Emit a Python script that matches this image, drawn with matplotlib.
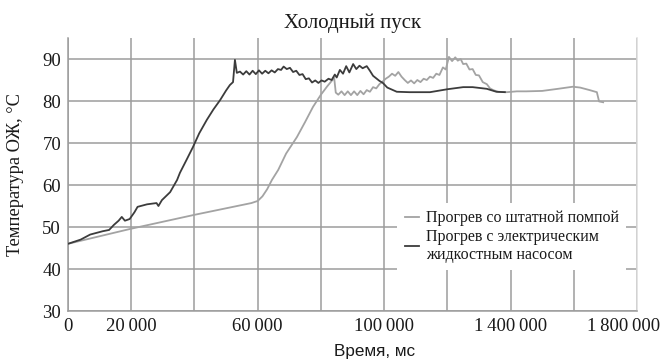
import matplotlib
matplotlib.use("Agg")
import matplotlib.pyplot as plt
from matplotlib.transforms import ScaledTranslation

# Coolant temperature during a cold start, time in ms
time_std = [0, 20000, 40000, 58000, 60000, 61500, 63000, 64500, 66500, 69000,
            72400, 75000, 77500, 80000, 82000, 84200, 84700, 85500, 86500, 87500,
            88500, 89500, 90500, 91500, 92500, 93500, 94500, 95500, 96500, 97500,
            98500, 99500, 100500, 101500, 102500, 103500, 104500, 105500, 106500, 107500,
            108500, 109500, 110500, 111500, 112500, 113500, 114500, 115500, 116500, 117500,
            118600, 119500, 120500, 121500, 122500, 123300, 124200, 125000, 126000, 127000,
            128000, 129000, 130000, 131200, 132500, 133500, 134500, 136000, 138800, 142000,
            145000, 150000, 155000, 159700, 162000, 165000, 167300, 168000, 169300]
temp_std = [46.0, 49.6, 52.9, 55.7, 56.2, 57.3, 59.0, 61.2, 63.6, 67.5,
            71.4, 75.0, 78.6, 81.5, 83.5, 85.5, 82.0, 81.5, 82.3, 81.4,
            82.3, 81.4, 82.3, 81.4, 82.4, 81.6, 82.6, 82.2, 83.3, 83.0,
            84.0, 84.6, 85.3, 85.8, 86.5, 86.0, 86.9, 85.8, 85.0, 84.3,
            84.9, 84.2, 85.0, 84.5, 85.3, 85.0, 85.8, 85.5, 86.5, 86.2,
            88.0, 87.5, 90.5, 89.5, 90.4, 89.6, 90.0, 88.8, 88.9, 87.5,
            87.6, 86.2, 86.1, 84.5, 84.0, 83.0, 82.6, 82.2, 82.1, 82.3,
            82.3, 82.4, 82.9, 83.4, 83.2, 82.6, 82.1, 79.9, 79.7]

time_el = [0, 2000, 4000, 5500, 7000, 9000, 11000, 13000, 14500, 16000,
           17000, 18000, 19500, 21000, 22000, 25000, 28000, 28600, 29700, 32300,
           34500, 35400, 37500, 39500, 41500, 43900, 46000, 48100, 50000, 51200,
           52200, 52800, 53400, 54400, 55400, 56400, 57400, 58400, 59400, 60400,
           61400, 62400, 63400, 64400, 65400, 66400, 67400, 68200, 69200, 70200,
           71200, 72200, 73200, 74200, 75200, 76200, 77200, 78200, 79200, 80200,
           81200, 82400, 83400, 84400, 85000, 86000, 87000, 88000, 89000, 90200,
           91200, 92200, 93200, 94500, 95500, 96500, 97500, 98500, 99600, 101000,
           102800, 104000, 108000, 114500, 120000, 125000, 128000, 132500, 135500, 138200]
temp_el = [46.0, 46.5, 47.0, 47.6, 48.2, 48.6, 49.0, 49.3, 50.5, 51.5,
           52.4, 51.5, 51.9, 53.5, 54.8, 55.4, 55.7, 55.0, 56.4, 58.3,
           61.2, 62.9, 66.0, 69.0, 72.3, 75.5, 78.0, 80.2, 82.5, 83.8,
           84.5, 89.8, 86.7, 87.0, 86.3, 87.1, 86.3, 87.2, 86.4, 87.3,
           86.5, 87.2, 86.6, 87.3, 86.8, 87.6, 87.4, 88.2, 87.6, 87.9,
           86.9, 87.2, 86.2, 86.4, 85.2, 85.4, 84.4, 84.9, 84.3, 84.9,
           84.6, 85.3, 85.0, 86.3, 85.6, 87.4, 86.5, 88.3, 86.8, 88.8,
           87.6, 88.4, 87.8, 88.3, 87.2, 86.0, 85.4, 84.8, 84.3, 83.2,
           82.6, 82.2, 82.1, 82.1, 82.8, 83.3, 83.3, 82.9, 82.2, 82.1]

x_ticks = [0, 20000, 40000, 60000, 80000, 100000, 120000, 140000, 160000, 180000]
x_tick_labels = ["0", "20\u2009000", "", "60\u2009000", "", "100\u2009000", "",
                 "1\u2009400\u2009000", "", "1\u2009800\u2009000"]
y_ticks = [30, 40, 50, 60, 70, 80, 90]

label_std = "Прогрев со штатной помпой"
label_el = "Прогрев с электрическим\nжидкостным насосом"

serif = ["Liberation Serif", "DejaVu Serif"]
grid_c = "#9c9c9c"
text_c = "#1a1a1a"

fig = plt.figure(figsize=(6.65, 3.64), dpi=100)
ax = fig.add_axes([0.1023, 0.1456, 0.8556, 0.75])

ax.plot(time_std, temp_std, color="#a3a3a3", lw=1.3, label=label_std, zorder=3)
ax.plot(time_el, temp_el, color="#3c3c3c", lw=1.3, label=label_el, zorder=3)

ax.set_xlim(0, 180000)
ax.set_ylim(30, 95)
ax.set_xticks(x_ticks)
ax.set_xticklabels(x_tick_labels)
ax.set_yticks(y_ticks)
for lab in ax.get_xticklabels() + ax.get_yticklabels():
    lab.set_fontfamily(serif)
    lab.set_fontsize(13.5)
    lab.set_color(text_c)
ax.tick_params(axis="x", length=0, pad=5)
ax.tick_params(axis="y", length=0, pad=5)

# keep the last x label inside the figure
last = ax.get_xticklabels()[-1]
last.set_transform(last.get_transform() + ScaledTranslation(-0.13, 0, fig.dpi_scale_trans))

ax.grid(True, color=grid_c, lw=1.1, zorder=1)
ax.set_axisbelow(True)
ax.spines["top"].set_visible(False)
ax.spines["left"].set_color(grid_c)
ax.spines["bottom"].set_color(grid_c)
ax.spines["right"].set_color("#dcdcdc")
for side in ("left", "bottom", "right"):
    ax.spines[side].set_linewidth(1.1)

ax.set_title("Холодный пуск", fontfamily=serif, fontsize=15, pad=7, color=text_c)
ax.set_ylabel("Температура ОЖ, °С", fontfamily=serif, fontsize=13.3, color=text_c)
ax.yaxis.set_label_coords(-0.077, 0.5)
ax.set_xlabel("Время, мс", fontfamily=["Liberation Sans", "DejaVu Sans"], fontsize=12.3,
              color=text_c)
ax.xaxis.set_label_coords(0.538, -0.122)

leg = ax.legend(loc="upper left", bbox_to_anchor=(0.565, 0.425), frameon=True,
                facecolor="white", edgecolor="none", framealpha=1.0, fancybox=False,
                prop={"family": serif, "size": 11.5}, handlelength=0.9,
                handletextpad=0.45, labelspacing=0.15, borderpad=0.45)
leg.set_zorder(5)
for t in leg.get_texts():
    t.set_color(text_c)

fig.savefig("out.png", dpi=100, facecolor="white")
